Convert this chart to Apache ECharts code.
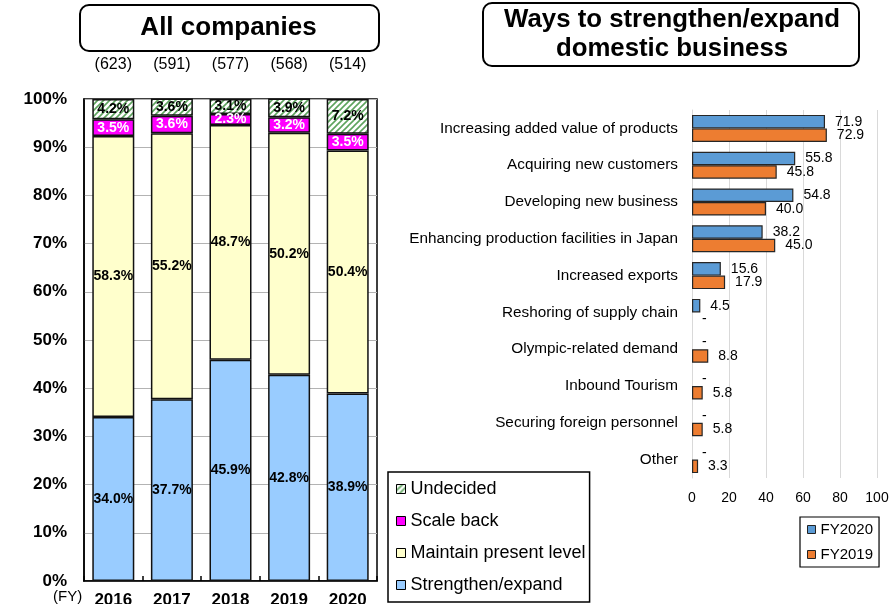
<!DOCTYPE html>
<html>
<head>
<meta charset="utf-8">
<script src="https://cdn.jsdelivr.net/npm/echarts@6/dist/echarts.min.js"></script>
<style>
  html, body { margin: 0; padding: 0; background: #fff; }
  #chart { width: 891px; height: 604px; }
</style>
</head>
<body>
<div id="chart"></div>
<script>
// ---- Survey outlook: all companies, by fiscal year (%) ----
const years = ['2016', '2017', '2018', '2019', '2020'];
const respondents = [623, 591, 577, 568, 514];
const strengthenExpand = [34.0, 37.7, 45.9, 42.8, 38.9];
const maintainLevel = [58.3, 55.2, 48.7, 50.2, 50.4];
const scaleBack = [3.5, 3.6, 2.3, 3.2, 3.5];
const undecided = [4.2, 3.6, 3.1, 3.9, 7.2];
const pctTicks = { min: 0, max: 100, interval: 10 };

// ---- Ways to strengthen/expand domestic business (%) ----
const measures = [
  'Increasing added value of products',
  'Acquiring new customers',
  'Developing new business',
  'Enhancing production facilities in Japan',
  'Increased exports',
  'Reshoring of supply chain',
  'Olympic-related demand',
  'Inbound Tourism',
  'Securing foreign personnel',
  'Other'
];
const fy2020 = [71.9, 55.8, 54.8, 38.2, 15.6, 4.5, null, null, null, null];
const fy2019 = [72.9, 45.8, 40.0, 45.0, 17.9, null, 8.8, 5.8, 5.8, 3.3];
const shareTicks = { min: 0, max: 100, interval: 20 };

const FONT = '"Liberation Sans", Arial, sans-serif';

// Green diagonal hatch used for the "Undecided" segments
function hatchPattern() {
  const c = document.createElement('canvas');
  c.width = 6; c.height = 6;
  const g = c.getContext('2d');
  g.fillStyle = '#ffffff';
  g.fillRect(0, 0, 6, 6);
  g.strokeStyle = '#5ea45e';
  g.lineWidth = 1.6;
  g.beginPath();
  g.moveTo(-1, 7); g.lineTo(7, -1);
  g.moveTo(-4, 4); g.lineTo(4, -4);
  g.moveTo(2, 10); g.lineTo(10, 2);
  g.stroke();
  return { image: c, repeat: 'repeat' };
}

function stackSeries(name, values, color, labelColor) {
  return {
    name: name,
    type: 'bar',
    stack: 'share',
    xAxisIndex: 0,
    yAxisIndex: 0,
    barWidth: 42,
    data: values,
    itemStyle: { color: color, borderColor: '#111', borderWidth: 1.5 },
    label: {
      show: true,
      position: 'inside',
      color: labelColor,
      fontFamily: FONT,
      fontWeight: 'bold',
      fontSize: 14,
      formatter: p => p.value.toFixed(1) + '%'
    }
  };
}

// Missing answers are shown as a dash at the zero line
function measureData(values) {
  return values.map(v => v === null
    ? { value: 0, itemStyle: { borderWidth: 0, color: 'rgba(0,0,0,0)' }, label: { formatter: '-' } }
    : v);
}

function measureSeries(name, values, color) {
  return {
    name: name,
    type: 'bar',
    xAxisIndex: 2,
    yAxisIndex: 1,
    barWidth: 13.5,
    barGap: '0%',
    data: measureData(values),
    itemStyle: { color: color, borderColor: '#262626', borderWidth: 1.2 },
    label: {
      show: true,
      position: 'right',
      distance: 10,
      color: '#000',
      fontFamily: FONT,
      fontSize: 14,
      formatter: p => Number(p.value).toFixed(1)
    }
  };
}

const chart = echarts.init(document.getElementById('chart'), null, { renderer: 'canvas' });

const option = {
  backgroundColor: '#ffffff',
  animation: false,
  textStyle: { fontFamily: FONT },
  grid: [
    { left: 84, top: 99, width: 293, height: 482, outerBoundsMode: 'none', containLabel: false, show: true, borderColor: '#000', borderWidth: 1.5, backgroundColor: 'transparent' },
    { left: 692, top: 110, width: 185, height: 368, outerBoundsMode: 'none', containLabel: false }
  ],
  xAxis: [
    {
      type: 'category', gridIndex: 0, data: years,
      axisLine: { lineStyle: { color: '#000', width: 1.5 } },
      axisTick: { show: true, inside: true, length: 5, lineStyle: { color: '#000', width: 1.5 } },
      axisLabel: { color: '#000', fontFamily: FONT, fontWeight: 'bold', fontSize: 17, margin: 11 }
    },
    {
      type: 'category', gridIndex: 0, position: 'top', data: respondents,
      axisLine: { show: false }, axisTick: { show: false },
      axisLabel: { color: '#000', fontFamily: FONT, fontSize: 16, margin: 26, formatter: v => '(' + v + ')' }
    },
    {
      type: 'value', gridIndex: 1,
      min: shareTicks.min, max: shareTicks.max, interval: shareTicks.interval,
      axisLine: { show: false }, axisTick: { show: false },
      splitLine: { lineStyle: { color: '#d9d9d9', width: 1 } },
      axisLabel: { color: '#000', fontFamily: FONT, fontSize: 14, margin: 13 }
    }
  ],
  yAxis: [
    {
      type: 'value', gridIndex: 0,
      min: pctTicks.min, max: pctTicks.max, interval: pctTicks.interval,
      axisLine: { show: true, lineStyle: { color: '#000', width: 1.5 } },
      axisTick: { show: false },
      splitLine: { lineStyle: { color: '#b3b3b3', width: 1 } },
      axisLabel: { color: '#000', fontFamily: FONT, fontWeight: 'bold', fontSize: 17, margin: 17, formatter: '{value}%' }
    },
    {
      type: 'category', gridIndex: 1, data: measures, inverse: true,
      axisLine: { show: true, lineStyle: { color: '#d9d9d9' } },
      axisTick: { show: false },
      axisLabel: { color: '#000', fontFamily: FONT, fontSize: 15.3, margin: 14 }
    }
  ],
  legend: [
    {
      orient: 'vertical', left: 388, top: 472,
      padding: [8, 4, 8, 8], itemGap: 14,
      itemWidth: 9, itemHeight: 9, icon: 'rect',
      borderColor: '#000', borderWidth: 1.5,
      itemStyle: { borderColor: '#000', borderWidth: 1 },
      textStyle: { color: '#000', fontFamily: FONT, fontSize: 18 },
      data: ['Undecided', 'Scale back', 'Maintain present level', 'Strengthen/expand']
    },
    {
      orient: 'vertical', left: 800, top: 517,
      padding: [5, 6, 5, 7], itemGap: 10,
      itemWidth: 8, itemHeight: 8, icon: 'rect',
      borderColor: '#000', borderWidth: 1.2,
      itemStyle: { borderColor: '#222', borderWidth: 1 },
      textStyle: { color: '#000', fontFamily: FONT, fontSize: 15 },
      data: ['FY2020', 'FY2019']
    }
  ],
  graphic: [
    {
      type: 'rect', left: 79, top: 4,
      shape: { width: 299, height: 46, r: 9 },
      style: { fill: '#fff', stroke: '#000', lineWidth: 2 }
    },
    {
      type: 'text', x: 228.5, y: 28,
      style: { text: 'All companies', fill: '#000', font: 'bold 26px ' + FONT, align: 'center', verticalAlign: 'middle' }
    },
    {
      type: 'rect', left: 482, top: 2,
      shape: { width: 376, height: 63, r: 9 },
      style: { fill: '#fff', stroke: '#000', lineWidth: 2 }
    },
    {
      type: 'text', x: 672, y: 34,
      style: { text: 'Ways to strengthen/expand\ndomestic business', fill: '#000', font: 'bold 25.8px ' + FONT, lineHeight: 29, align: 'center', verticalAlign: 'middle' }
    },
    {
      type: 'text', x: 53, y: 597,
      style: { text: '(FY)', fill: '#000', font: '15px ' + FONT, align: 'left', verticalAlign: 'middle' }
    }
  ],
  series: [
    stackSeries('Strengthen/expand', strengthenExpand, '#99ccff', '#000'),
    stackSeries('Maintain present level', maintainLevel, '#ffffcc', '#000'),
    stackSeries('Scale back', scaleBack, '#ff00ff', '#fff'),
    stackSeries('Undecided', undecided, hatchPattern(), '#000'),
    measureSeries('FY2020', fy2020, '#5b9bd5'),
    measureSeries('FY2019', fy2019, '#ed7d31')
  ]
};

chart.setOption(option);
</script>
</body>
</html>
